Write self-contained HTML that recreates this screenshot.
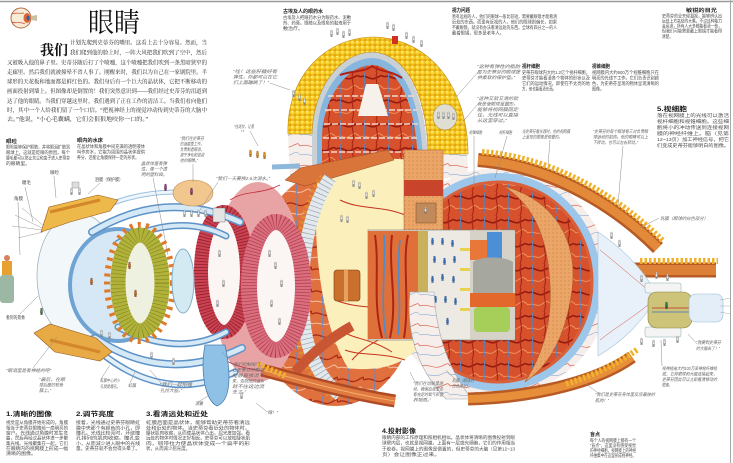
<!DOCTYPE html>
<html><head><meta charset="utf-8"><style>
html,body{margin:0;padding:0;background:#fff;width:733px;height:463px;overflow:hidden}
svg{display:block}
.s{font-family:"Liberation Sans","Noto Sans CJK SC",sans-serif}
.sf{font-family:"Liberation Serif","Noto Serif CJK SC",serif}
.b{font-size:4.5px;fill:#4a4a4a}
.h{font-size:5px;font-weight:bold;fill:#222}
.q{font-size:4.5px;fill:#666;font-style:italic}
.H{font-size:6.5px;font-weight:bold;fill:#1a1a1a}
.l{stroke:#8a8a8a;stroke-width:.5;fill:none}
</style></head><body>
<svg width="733" height="463" viewBox="0 0 733 463" xmlns="http://www.w3.org/2000/svg">
<defs>
 <pattern id="vR" width="24" height="24" patternUnits="userSpaceOnUse">
  <rect width="24" height="24" fill="#d7522c"/>
  <path d="M0,5 C6,2 10,9 16,6 S22,3 24,5" stroke="#961a10" stroke-width="1.6" fill="none"/>
  <path d="M0,17 C5,14 9,20 14,16 S20,13 24,17" stroke="#f08e5c" stroke-width="1" fill="none"/>
  <path d="M4,0 C6,8 2,14 6,24" stroke="#4f86c8" stroke-width="0.9" fill="none"/>
  <path d="M17,0 C14,7 20,15 16,24" stroke="#a82414" stroke-width="1.1" fill="none"/>
 </pattern>
 <pattern id="vO" width="26" height="22" patternUnits="userSpaceOnUse">
  <rect width="26" height="22" fill="#e0703e"/>
  <path d="M0,6 C8,2 12,11 20,6 S24,4 26,6" stroke="#a82a18" stroke-width="1.3" fill="none"/>
  <path d="M0,16 C6,13 12,19 18,15 S23,14 26,16" stroke="#f6c2a0" stroke-width="1" fill="none"/>
  <path d="M10,0 C13,8 8,14 12,22" stroke="#5b8ccc" stroke-width="0.8" fill="none"/>
 </pattern>
 <pattern id="vW" width="30" height="20" patternUnits="userSpaceOnUse">
  <rect width="30" height="20" fill="#f6eeea"/>
  <path d="M0,6 C8,3 14,10 22,6 S28,4 30,6" stroke="#d8503a" stroke-width="0.6" fill="none"/>
  <path d="M0,15 C7,13 15,18 22,14 S28,14 30,15" stroke="#6a9ad0" stroke-width="0.5" fill="none"/>
 </pattern>
 <pattern id="yl" width="5" height="5" patternUnits="userSpaceOnUse">
  <rect width="5" height="5" fill="#e4a80e"/>
  <ellipse cx="2.5" cy="2.5" rx="2.3" ry="2.1" fill="#fbd52e"/>
  <circle cx="2" cy="1.8" r=".8" fill="#fff39a"/>
 </pattern>
 <pattern id="tn" width="4" height="4" patternUnits="userSpaceOnUse">
  <rect width="4" height="4" fill="#eba667"/>
  <circle cx="1" cy="1" r=".5" fill="#b86a34"/>
 </pattern>
 <g id="p"><circle cx="1.5" cy="1" r="1"/><rect x="0.4" y="2" width="2.2" height="3" rx=".5"/><rect x=".6" y="4.8" width=".7" height="2"/><rect x="1.7" y="4.8" width=".7" height="2"/></g>
</defs>

<!-- frame -->
<line x1="0" y1="1.5" x2="733" y2="1.5" stroke="#9a9a9a" stroke-width="1.5"/>
<line x1="730.5" y1="0" x2="730.5" y2="463" stroke="#a8a8a8" stroke-width="1"/>

<!-- eye icon -->
<circle cx="21" cy="18" r="10" fill="#f6ecd8" stroke="#b56a44" stroke-width="1"/>
<path d="M12,14 C16,12 20,14 24,13 M12,22 C16,24 20,21 25,24" stroke="#d04a30" stroke-width=".7" fill="none"/>
<ellipse cx="27" cy="18" rx="3.5" ry="5" fill="#e0662e"/>
<ellipse cx="28" cy="18" rx="1.5" ry="2.6" fill="#3560a8"/>
<path d="M31,16 L37,15 L37,21 L31,20 Z" fill="#c9c0a0"/>

<!-- ===== central back shells ===== -->
<ellipse cx="498" cy="282" rx="112" ry="114" fill="url(#vW)"/>
<ellipse cx="498" cy="282" rx="102" ry="108" fill="url(#vR)"/>
<ellipse cx="498" cy="282" rx="99" ry="105" fill="none" stroke="#9cc6ea" stroke-width="8"/>
<ellipse cx="498" cy="282" rx="94" ry="100" fill="none" stroke="#d8603a" stroke-width="3"/>
<path d="M503,186 C555,200 578,240 572,290 C566,335 550,365 525,382 C545,350 552,320 550,285 C548,240 535,205 503,186 Z" fill="url(#tn)" stroke="#b05a2a" stroke-width=".6"/>

<ellipse cx="335" cy="288" rx="85" ry="118" fill="url(#vO)"/>

<!-- dome -->
<path d="M290,178 L288,134 C286,80 322,38 373,37 C430,38 468,88 468,178 Z" fill="url(#vW)"/>
<path d="M312,178 L312,134 C313,90 338,53 372,52 C408,53 428,100 428,172 Z" fill="#c9d0d6"/>
<path d="M317,178 L317,134 C318,94 341,59 372,58 C404,59 423,103 423,172 Z" fill="#86b6de"/>
<path d="M322,178 L322,136 C323,100 345,66 372,65 C400,66 418,108 418,172 Z" fill="url(#vR)"/>
<g stroke="#f4d8cc" stroke-width="1.4" stroke-dasharray="6 2">
 <line x1="328" y1="96" x2="414" y2="96"/><line x1="325" y1="110" x2="417" y2="110"/>
 <line x1="324" y1="124" x2="418" y2="124"/><line x1="323" y1="138" x2="418" y2="138"/>
 <line x1="323" y1="152" x2="418" y2="152"/>
</g>
<path d="M366,84 L378,84 L388,116 L358,116 Z" fill="#f6f1ea"/>
<path d="M340,75 C355,70 365,72 372,66 C380,72 390,70 402,78" stroke="#b02014" stroke-width="2" fill="none"/>
<path d="M288,134 C286,80 322,38 373,37 C430,38 468,88 468,154 L428,154 C428,100 408,53 372,52 C338,53 313,90 312,134 Z" fill="url(#yl)" stroke="#c08a10" stroke-width=".6"/>
<ellipse cx="445" cy="117" rx="12" ry="13" fill="#e0ddd2" stroke="#b09030" stroke-width=".6"/>
<g fill="#eee" stroke="#555" stroke-width=".3">
 <use href="#p" x="437" y="112"/><use href="#p" x="442" y="112"/><use href="#p" x="447" y="112"/><use href="#p" x="452" y="113"/>
 <use href="#p" x="330" y="30"/><use href="#p" x="336" y="28"/><use href="#p" x="342" y="31"/><use href="#p" x="348" y="29"/>
 <use href="#p" x="386" y="22"/><use href="#p" x="392" y="24"/><use href="#p" x="405" y="32"/><use href="#p" x="412" y="36"/><use href="#p" x="420" y="40"/>
 <use href="#p" x="292" y="90"/><use href="#p" x="298" y="94"/><use href="#p" x="303" y="98"/>
 <use href="#p" x="420" y="150"/><use href="#p" x="428" y="152"/><use href="#p" x="436" y="151"/>
</g>
<rect x="392" y="36" width="6" height="8" fill="#d03020"/>

<!-- vitreous -->
<path d="M318,175 C345,160 395,155 420,162 L420,345 C405,366 375,372 348,368 C318,320 312,230 318,175 Z" fill="#fbefbb"/>
<g stroke="#c8321e" stroke-width="1" fill="none">
 <path d="M340,330 C355,340 370,338 392,352"/><path d="M345,350 C360,356 380,352 405,360"/><path d="M335,300 C360,310 380,305 410,312"/>
 <path d="M340,200 C360,210 380,205 405,215"/><path d="M352,360 C365,345 380,340 395,330"/>
</g>
<g fill="#eee" stroke="#555" stroke-width=".3">
 <use href="#p" x="352" y="180"/><use href="#p" x="358" y="182"/><use href="#p" x="365" y="192"/><use href="#p" x="372" y="190"/>
 <use href="#p" x="340" y="215"/><use href="#p" x="346" y="216"/>
</g>

<!-- diagonal muscle under dome -->
<path d="M272,167 L300,166" stroke="#8db8dc" stroke-width="5"/>
<path d="M285,180 L300,168 L388,150 L394,160 L305,186 Z" fill="#d9753a" stroke="#9a4a20" stroke-width=".5"/>
<g fill="#e8a22a" stroke="#704010" stroke-width=".3">
 <use href="#p" x="249" y="150"/><use href="#p" x="256" y="151"/><use href="#p" x="263" y="152"/>
</g>

<!-- column -->
<rect x="404" y="150" width="39" height="82" fill="url(#tn)" stroke="#a86030" stroke-width=".5"/>
<rect x="404" y="180" width="39" height="16" fill="#c8442a"/>
<rect x="416" y="203" width="20" height="20" fill="#c28a5a" stroke="#7a4a20" stroke-width=".5"/>
<use href="#p" x="424" y="207" fill="#eee" stroke="#444" stroke-width=".3"/>

<!-- grey band with figures -->
<path d="M322,176 C296,215 289,280 296,330 C301,362 313,383 333,398" stroke="#e08a30" stroke-width="5" stroke-dasharray="2.5 3" fill="none"/>
<path d="M330,178 C305,215 298,280 305,330 C310,360 322,380 340,395" stroke="#e3e8ec" stroke-width="13" fill="none"/>
<path d="M330,178 C305,215 298,280 305,330 C310,360 322,380 340,395" stroke="#8a9aa8" stroke-width="13" stroke-dasharray=".6 4" fill="none"/>
<rect x="334" y="270" width="26" height="31" rx="3" fill="#c9702c" stroke="#7a3a10" stroke-width=".6"/>
<rect x="344" y="270" width="4" height="31" fill="#e6a060"/>

<!-- pink rings -->
<ellipse cx="258" cy="282" rx="46" ry="100" fill="#e8a4a4"/>
<g stroke="#c03040" stroke-width=".8" fill="none">
 <path d="M230,200 C245,190 260,195 280,185"/><path d="M225,360 C245,372 265,368 285,378"/>
</g>
<ellipse cx="224" cy="272" rx="23" ry="60" fill="#fbf5f3" stroke="#cc4250" stroke-width="14"/>
<ellipse cx="224" cy="272" rx="23" ry="60" fill="none" stroke="#8e2232" stroke-width="14" stroke-dasharray=".8 2.2"/>
<ellipse cx="276" cy="286" rx="27" ry="64" fill="#fbf5f3" stroke="#dc6e7e" stroke-width="16"/>
<ellipse cx="276" cy="286" rx="27" ry="64" fill="none" stroke="#a84050" stroke-width="16" stroke-dasharray=".7 2.4"/>
<g fill="#e8e8e8" stroke="#555" stroke-width=".3">
 <use href="#p" x="218" y="250"/><use href="#p" x="222" y="280"/><use href="#p" x="216" y="300"/>
 <use href="#p" x="268" y="250"/><use href="#p" x="274" y="262"/><use href="#p" x="280" y="280"/><use href="#p" x="270" y="300"/><use href="#p" x="278" y="318"/>
</g>

<!-- right eyeball interior: room -->
<rect x="368" y="230" width="147" height="110" fill="#eceae2" stroke="#777" stroke-width=".6"/>
<rect x="368" y="231" width="50" height="108" fill="#e0703a"/>
<g stroke="#b02414" stroke-width="2" fill="none">
 <path d="M375,235 C380,270 372,300 382,338"/><path d="M392,235 C388,270 398,300 390,338"/><path d="M408,235 C402,260 410,300 404,338"/>
</g>
<g stroke="#4e8ad0" stroke-width="1.6" fill="none">
 <path d="M384,235 C386,270 380,300 386,338"/><path d="M400,240 C396,270 402,300 398,335"/>
</g>
<rect x="418" y="231" width="10" height="108" fill="#c9b05a"/>
<g fill="#3a70b8" stroke="#1a3a70" stroke-width=".2">
 <use href="#p" x="431" y="238"/><use href="#p" x="441" y="238"/><use href="#p" x="451" y="240"/>
 <use href="#p" x="433" y="256"/><use href="#p" x="443" y="258"/><use href="#p" x="453" y="256"/>
 <use href="#p" x="431" y="276"/><use href="#p" x="441" y="274"/><use href="#p" x="452" y="276"/>
 <use href="#p" x="434" y="296"/><use href="#p" x="444" y="296"/><use href="#p" x="454" y="298"/>
 <use href="#p" x="432" y="316"/><use href="#p" x="446" y="318"/>
</g>
<g fill="#e8d050"><rect x="460" y="248" width="10" height="3"/><rect x="460" y="268" width="10" height="3"/><rect x="460" y="288" width="10" height="3"/><rect x="460" y="308" width="10" height="3"/></g>
<rect x="470" y="231" width="45" height="108" fill="#d6d2c8"/>
<rect x="470" y="240" width="18" height="20" fill="#e8783a"/>
<rect x="487" y="232" width="15" height="28" fill="#4b8fd6"/>
<path d="M473,262 C480,256 505,256 513,262 L513,294 L473,294 Z" fill="#a6a79f"/>
<rect x="470" y="293" width="45" height="14" fill="#e2682c"/>
<rect x="474" y="307" width="36" height="25" rx="4" fill="#a5cf58"/>

<!-- sclera white wall -->
<path d="M410,292 C406,330 416,368 446,399 L472,399 C448,370 436,332 434,292 Z" fill="url(#vW)" stroke="#9aa8b4" stroke-width=".6"/>

<!-- muscles -->
<path d="M478,160 C545,165 610,200 658,248" stroke="#b85a24" stroke-width="14" fill="none"/>
<path d="M478,160 C545,165 610,200 658,248" stroke="#e38a3a" stroke-width="9" fill="none"/>
<path d="M482,152 C549,157 614,192 663,241" stroke="#f0b22c" stroke-width="6" stroke-dasharray="2.5 2" fill="none"/>
<path d="M598,270 L716,270" stroke="#b85a24" stroke-width="15"/>
<path d="M598,270 L716,270" stroke="#dc8038" stroke-width="10"/>
<path d="M640,261 L718,261" stroke="#f0b02c" stroke-width="6" stroke-dasharray="2.5 2"/>
<path d="M468,399 C540,397 600,380 632,357" stroke="#b85a24" stroke-width="13" fill="none"/>
<path d="M468,399 C540,397 600,380 632,357" stroke="#e68e3a" stroke-width="8" fill="none"/>
<path d="M566,384 C600,373 620,362 638,349" stroke="#f0b22c" stroke-width="6" stroke-dasharray="2.5 2" fill="none"/>
<path d="M295,372 C310,355 330,338 352,326" stroke="#c85632" stroke-width="10" fill="none"/>
<path d="M262,370 C300,380 350,394 395,401" stroke="#b04a24" stroke-width="13" fill="none"/>
<path d="M262,370 C300,380 350,394 395,401" stroke="#e07a40" stroke-width="8" fill="none"/>
<path d="M262,370 C300,380 350,394 395,401" stroke="#f2b070" stroke-width="1" fill="none"/>
<path d="M258,364 L285,376" stroke="#f0b22c" stroke-width="6" stroke-dasharray="2.5 2"/>

<!-- optic nerve -->
<path d="M598,232 C625,250 640,268 650,283 L650,308 C640,322 625,340 598,356 Z" fill="#e8f1f9" stroke="#a5c4de" stroke-width=".6"/>
<g stroke="#d8503a" stroke-width=".5" fill="none"><path d="M600,250 C615,262 630,275 648,290"/><path d="M600,340 C615,328 632,318 648,305"/></g>
<rect x="645" y="283" width="36" height="10" rx="2" fill="#f4f4f4" stroke="#8aa" stroke-width=".5"/>
<rect x="645" y="327" width="36" height="10" rx="2" fill="#f4f4f4" stroke="#8aa" stroke-width=".5"/>
<rect x="648" y="292" width="44" height="36" rx="9" fill="#cdc47a" stroke="#8a8440" stroke-width=".6"/>
<path d="M652,308 L690,308" stroke="#c03020" stroke-width=".8"/><path d="M652,312 L690,312" stroke="#3a70c0" stroke-width=".8"/>
<rect x="689" y="294" width="34" height="28" rx="7" fill="#e3eef8" stroke="#95b8d6" stroke-width=".6"/>
<g stroke="#999" stroke-width=".4"><line x1="720" y1="300" x2="731" y2="298"/><line x1="720" y1="306" x2="731" y2="306"/><line x1="720" y1="312" x2="731" y2="314"/></g>
<g fill="#eee" stroke="#555" stroke-width=".3">
 <use href="#p" x="640" y="275"/><use href="#p" x="655" y="272"/><use href="#p" x="666" y="274"/>
 <use href="#p" x="640" y="338"/><use href="#p" x="652" y="340"/><use href="#p" x="663" y="339"/><use href="#p" x="676" y="336"/>
 <use href="#p" x="610" y="232"/><use href="#p" x="618" y="240"/>
</g>
<use href="#p" x="665" y="302" fill="#3a8a50" stroke="#222" stroke-width=".3"/>

<!-- ===== left front of eye ===== -->
<ellipse cx="78" cy="276" rx="41" ry="63" fill="#f2f7f9" stroke="#9fb2c0" stroke-width=".8"/>
<g stroke="#9a9a9a" stroke-width=".5">
 <line x1="42" y1="228" x2="15" y2="215"/><line x1="42" y1="230" x2="12" y2="226"/><line x1="43" y1="232" x2="18" y2="238"/><line x1="44" y1="226" x2="22" y2="208"/>
</g>
<ellipse cx="118" cy="285" rx="48" ry="56" fill="#d6e8f5" stroke="#6ea3d3" stroke-width="4"/>
<g fill="none" stroke-linecap="round">
 <path d="M92,232 Q165,188 240,222" stroke="#5e93c8" stroke-width="8"/><path d="M92,232 Q165,188 240,222" stroke="#d4e8f6" stroke-width="5"/>
 <path d="M118,243 Q178,212 226,236" stroke="#5e93c8" stroke-width="7"/><path d="M118,243 Q178,212 226,236" stroke="#d4e8f6" stroke-width="4"/>
 <path d="M95,338 Q165,385 242,348" stroke="#5e93c8" stroke-width="8"/><path d="M95,338 Q165,385 242,348" stroke="#d4e8f6" stroke-width="5"/>
 <path d="M118,327 Q178,358 226,332" stroke="#5e93c8" stroke-width="7"/><path d="M118,327 Q178,358 226,332" stroke="#d4e8f6" stroke-width="4"/>
 <path d="M100,352 Q165,405 235,372" stroke="#5e93c8" stroke-width="7"/><path d="M100,352 Q165,405 235,372" stroke="#e4f0f9" stroke-width="4"/>
 <path d="M108,205 Q140,192 176,192" stroke="#9cc0de" stroke-width="5"/><path d="M108,205 Q140,192 176,192" stroke="#eef6fc" stroke-width="3"/>
</g>
<ellipse cx="140" cy="283" rx="33" ry="58" fill="none" stroke="#e07a28" stroke-width="6" stroke-dasharray="3 5"/>
<ellipse cx="140" cy="283" rx="22" ry="48" fill="#eef0e0" stroke="#b2b23a" stroke-width="15"/>
<ellipse cx="140" cy="283" rx="22" ry="48" fill="none" stroke="#7e8a24" stroke-width="15" stroke-dasharray=".6 3"/>
<ellipse cx="183" cy="281" rx="11" ry="32" fill="#d3eaf2" stroke="#7fb0c8" stroke-width="1"/>
<g fill="#d8702a" stroke="#603010" stroke-width=".3">
 <use href="#p" x="128" y="262"/><use href="#p" x="134" y="290"/><use href="#p" x="90" y="278"/>
</g>
<!-- eyelids -->
<path d="M41,232 L49,207 L98,195 L118,200 L110,211 L70,222 Z" fill="#edb94a" stroke="#9a5a20" stroke-width=".6"/>
<path d="M50,212 L100,200" stroke="#d4862a" stroke-width="3"/>
<path d="M34,333 L50,324 L96,338 L112,352 L100,361 L55,352 Z" fill="#e8aa44" stroke="#9a5a20" stroke-width=".6"/>
<path d="M50,340 L100,352" stroke="#d4862a" stroke-width="3"/>
<!-- tear gland & teardrop -->
<ellipse cx="193" cy="193" rx="20" ry="13" fill="#f1c78e" stroke="#c08a58" stroke-width=".6"/>
<g fill="#a54590" stroke="#401030" stroke-width=".3"><use href="#p" x="164" y="184"/><use href="#p" x="190" y="188"/></g>
<path d="M205,345 C200,372 205,400 217,406 C230,401 232,378 225,345 Z" fill="#8fc1e7" stroke="#4a80b0" stroke-width=".8"/>
<g fill="#eee" stroke="#555" stroke-width=".3">
 <use href="#p" x="183" y="210"/><use href="#p" x="190" y="210"/><use href="#p" x="197" y="210"/><use href="#p" x="204" y="210"/>
 <use href="#p" x="70" y="188"/><use href="#p" x="78" y="188"/><use href="#p" x="100" y="330"/><use href="#p" x="108" y="332"/>
 <use href="#p" x="150" y="352"/><use href="#p" x="172" y="358"/><use href="#p" x="240" y="392"/>
</g>
<rect x="72" y="182" width="7" height="6" fill="#ddd" stroke="#666" stroke-width=".3"/>
<rect x="213" y="208" width="12" height="14" fill="#e4e4e4" stroke="#666" stroke-width=".4"/>
<!-- little person far left -->
<circle cx="7" cy="258" r="3" fill="#d88060"/>
<rect x="2" y="261" width="10" height="14" fill="#e8a030"/>
<rect x="0" y="275" width="14" height="28" rx="3" fill="#9cb8a4"/>
<use href="#p" x="40" y="308" fill="#5a9a50" stroke="#222" stroke-width=".3"/>

<!-- ===== connector lines ===== -->
<g class="l">
 <path d="M25,187 L33,222"/><path d="M54,176 L56,198"/><path d="M18,202 L20,255"/><path d="M100,183 L88,194"/>
 <path d="M153,178 L168,255"/><path d="M193,164 L193,182"/><path d="M218,182 L200,210"/>
 <path d="M20,314 L38,296"/><path d="M33,368 L57,337"/>
 <path d="M480,70 L456,97"/><path d="M478,104 L460,125"/><path d="M270,83 L290,90"/><path d="M250,131 L258,146"/>
 <path d="M507,136 L495,178"/><path d="M474,136 L474,185"/><path d="M550,140 L548,165"/><path d="M623,146 L618,205"/>
 <path d="M659,218 L640,228"/><path d="M662,366 L661,340"/><path d="M697,344 L688,334"/><path d="M598,393 L586,384"/>
 <path d="M415,382 L410,372"/><path d="M455,379 L446,370"/><path d="M233,364 L222,352"/><path d="M161,383 L150,370"/>
 <path d="M101,379 L110,365"/><path d="M130,383 L135,372"/><path d="M198,402 L208,396"/><path d="M266,411 L256,403"/>
</g>

<!-- ===== TEXT ===== -->
<g class="sf">
 <text x="88" y="32" font-size="27" fill="#111" textLength="52" lengthAdjust="spacingAndGlyphs">眼睛</text>
 <text x="40" y="55" font-size="14" font-weight="bold" fill="#111" textLength="28" lengthAdjust="spacingAndGlyphs">我们</text>
 <g font-size="5.8" fill="#222">
  <text x="70" y="44.5" textLength="137" lengthAdjust="spacingAndGlyphs">计划先爬到史蒂芬的嘴里。这看上去十分容易。然而，当</text>
  <text x="70" y="54.5" textLength="137" lengthAdjust="spacingAndGlyphs">我们爬到他的脸上时，一阵大风把我们吹到了空中，然后</text>
  <text x="7" y="64.5" textLength="200" lengthAdjust="spacingAndGlyphs">又被吸入他的鼻子里。史蒂芬随后打了个喷嚏，这个喷嚏把我们吹到一条黑暗狭窄的</text>
  <text x="7" y="74" textLength="200" lengthAdjust="spacingAndGlyphs">走廊里。然后我们就被撞晕不省人事了。刚醒来时，我们以为自己在一家剧院里。半</text>
  <text x="7" y="83.5" textLength="200" lengthAdjust="spacingAndGlyphs">球形的天花板和地面都是鲜红色的。我们身后有一个巨大的晶状体，它把不断移动的</text>
  <text x="7" y="93" textLength="200" lengthAdjust="spacingAndGlyphs">画面投射到墙上。但图像却是倒置的！我们突然意识到——我们经过史蒂芬的泪道到</text>
  <text x="7" y="103" textLength="200" lengthAdjust="spacingAndGlyphs">达了他的眼睛。当我们穿越这里时，我们遇到了正在工作的清洁工。当我们看向他们</text>
  <text x="7" y="112" textLength="200" lengthAdjust="spacingAndGlyphs">时，其中一个人给我们留了一个口信。“把视神经上的视觉冲动传到史蒂芬的大脑中</text>
  <text x="7" y="121" textLength="141" lengthAdjust="spacingAndGlyphs">去。”他说，“小心毛囊螨，它们会狠狠地咬你一口的。”</text>
 </g>
</g>

<g class="s">
 <text class="h" x="283" y="13" textLength="40" lengthAdjust="spacingAndGlyphs">古埃及人的眼药水</text>
 <text class="b" x="283" y="19" textLength="68" lengthAdjust="spacingAndGlyphs">古埃及人把眼药水分为眼药水、泥敷</text>
 <text class="b" x="283" y="24.5" textLength="68" lengthAdjust="spacingAndGlyphs">剂、药膏。眼睛以及眼角的黏液用于</text>
 <text class="b" x="283" y="30" textLength="20" lengthAdjust="spacingAndGlyphs">敷治疗。</text>

 <text class="h" x="452" y="12" textLength="18" lengthAdjust="spacingAndGlyphs">视力问题</text>
 <text class="b" x="452" y="18" textLength="105" lengthAdjust="spacingAndGlyphs">患有远视的人，他们的眼球一般比较短，需要戴眼镜才能看清</text>
 <text class="b" x="452" y="23.5" textLength="105" lengthAdjust="spacingAndGlyphs">近处的东西。而患有近视的人，他们的眼球则偏长，如果</text>
 <text class="b" x="452" y="29" textLength="105" lengthAdjust="spacingAndGlyphs">不戴眼镜，就没有办法看清远处的东西。全球有四分之一的人</text>
 <text class="b" x="452" y="34.5" textLength="52" lengthAdjust="spacingAndGlyphs">戴着眼镜，很多是老年人。</text>

 <text class="h" x="686" y="12" textLength="31" lengthAdjust="spacingAndGlyphs">敏锐的目光</text>
 <text class="b" x="662" y="17.5" textLength="60" lengthAdjust="spacingAndGlyphs">史蒂芬的全天候凝视，能够辨认出</text>
 <text class="b" x="662" y="22.5" textLength="60" lengthAdjust="spacingAndGlyphs">远处上方高处的大鹰。不过这种能力</text>
 <text class="b" x="662" y="27.5" textLength="60" lengthAdjust="spacingAndGlyphs">会衰退，所有人大多都能看清一些，</text>
 <text class="b" x="662" y="32.5" textLength="60" lengthAdjust="spacingAndGlyphs">但我们可能需要戴上眼镜才能看得</text>
 <text class="b" x="662" y="38" textLength="11" lengthAdjust="spacingAndGlyphs">清楚。</text>

 <text class="q" x="477" y="68" textLength="43" lengthAdjust="spacingAndGlyphs">“这种有弹性的脂肪</text>
 <text class="q" x="477" y="73.5" textLength="43" lengthAdjust="spacingAndGlyphs">层为史蒂芬的眼球提</text>
 <text class="q" x="477" y="79" textLength="38" lengthAdjust="spacingAndGlyphs">供柔软的保护垫。”</text>
 <text class="q" x="477" y="100" textLength="41" lengthAdjust="spacingAndGlyphs">“这种又软又滑的软</text>
 <text class="q" x="477" y="105.5" textLength="41" lengthAdjust="spacingAndGlyphs">骨是使眼球呈圆形，</text>
 <text class="q" x="477" y="111" textLength="41" lengthAdjust="spacingAndGlyphs">能够将视网膜固定</text>
 <text class="q" x="477" y="116.5" textLength="41" lengthAdjust="spacingAndGlyphs">住，光线可以直接</text>
 <text class="q" x="477" y="122" textLength="30" lengthAdjust="spacingAndGlyphs">从这里穿过。”</text>

 <text class="h" x="522" y="68" textLength="18" lengthAdjust="spacingAndGlyphs">视杆细胞</text>
 <text class="b" x="522" y="74" textLength="68" lengthAdjust="spacingAndGlyphs">史蒂芬眼球内大约1.2亿个视杆细胞，</text>
 <text class="b" x="522" y="79.5" textLength="68" lengthAdjust="spacingAndGlyphs">史蒂芬才能看清各个物体的形状以及</text>
 <text class="b" x="522" y="85" textLength="68" lengthAdjust="spacingAndGlyphs">它们的运动情况，即使在不太亮的地</text>
 <text class="b" x="522" y="90.5" textLength="34" lengthAdjust="spacingAndGlyphs">方，他也能看清东西。</text>

 <text class="h" x="592" y="68" textLength="18" lengthAdjust="spacingAndGlyphs">视锥细胞</text>
 <text class="b" x="592" y="74" textLength="67" lengthAdjust="spacingAndGlyphs">视网膜内大约600万个视锥细胞只在</text>
 <text class="b" x="592" y="79.5" textLength="67" lengthAdjust="spacingAndGlyphs">明亮的光线下工作。它们负责识别颜</text>
 <text class="b" x="592" y="85" textLength="67" lengthAdjust="spacingAndGlyphs">色，为史蒂芬呈现的物体呈现清晰的</text>
 <text class="b" x="592" y="90.5" textLength="12" lengthAdjust="spacingAndGlyphs">图像。</text>

 <text class="H" x="657" y="111" textLength="30" lengthAdjust="spacingAndGlyphs">5.视细胞</text>
 <text class="b" x="657" y="117" textLength="72" lengthAdjust="spacingAndGlyphs">落在视网膜上的光线可以激活</text>
 <text class="b" x="657" y="123" textLength="72" lengthAdjust="spacingAndGlyphs">视杆细胞和视锥细胞。这些细</text>
 <text class="b" x="657" y="129" textLength="72" lengthAdjust="spacingAndGlyphs">胞将小的冲动传送到连接视网</text>
 <text class="b" x="657" y="135" textLength="72" lengthAdjust="spacingAndGlyphs">膜的神经纤维上。脑（见第</text>
 <text class="b" x="657" y="141" textLength="72" lengthAdjust="spacingAndGlyphs">12~13页）加工神经信号，把它</text>
 <text class="b" x="657" y="147" textLength="72" lengthAdjust="spacingAndGlyphs">们变成史蒂芬能够明白的图像。</text>

 <text class="h" x="6" y="143" textLength="11" lengthAdjust="spacingAndGlyphs">眼睑</text>
 <text class="b" x="6" y="148.5" textLength="64" lengthAdjust="spacingAndGlyphs">眼睑能够保护眼睛，并将眼泪扩散到</text>
 <text class="b" x="6" y="154" textLength="64" lengthAdjust="spacingAndGlyphs">眼球上，这就是眨眼的原因。每个</text>
 <text class="b" x="6" y="159.5" textLength="64" lengthAdjust="spacingAndGlyphs">睫毛都可以防止灰尘和虫子进入史蒂芬</text>
 <text class="b" x="6" y="165" textLength="24" lengthAdjust="spacingAndGlyphs">的眼睛里。</text>

 <text class="h" x="77" y="142" textLength="26" lengthAdjust="spacingAndGlyphs">眼内的水床</text>
 <text class="b" x="77" y="148" textLength="68" lengthAdjust="spacingAndGlyphs">在晶状体和角膜中间充满的透明液体</text>
 <text class="b" x="77" y="153.5" textLength="68" lengthAdjust="spacingAndGlyphs">叫作房水，它能为周围的晶状体提供</text>
 <text class="b" x="77" y="159" textLength="62" lengthAdjust="spacingAndGlyphs">养分，还能让角膜保持一定的形状。</text>

 <text class="b" x="22" y="184" textLength="9" lengthAdjust="spacingAndGlyphs">睫毛</text>
 <text class="b" x="50" y="174" textLength="9" lengthAdjust="spacingAndGlyphs">眼睑</text>
 <text class="b" x="14" y="200" textLength="9" lengthAdjust="spacingAndGlyphs">角膜</text>
 <text class="b" x="95" y="181" textLength="28" lengthAdjust="spacingAndGlyphs">泪膜（保护膜）</text>
 <text class="b" x="6" y="319" textLength="19" lengthAdjust="spacingAndGlyphs">看到的景象</text>
 <text class="q" x="6" y="372" textLength="45" lengthAdjust="spacingAndGlyphs">“眼泪里是有神经的吧”</text>
 <text class="q" x="180" y="140" textLength="24" lengthAdjust="spacingAndGlyphs">“我们在史蒂芬</text>
 <text class="q" x="180" y="145.5" textLength="24" lengthAdjust="spacingAndGlyphs">的泪腺里工作，</text>
 <text class="q" x="180" y="151" textLength="24" lengthAdjust="spacingAndGlyphs">负责制造眼泪，</text>
 <text class="q" x="180" y="156.5" textLength="24" lengthAdjust="spacingAndGlyphs">用于净化和滋润</text>
 <text class="q" x="180" y="162" textLength="18" lengthAdjust="spacingAndGlyphs">他的眼睛。”</text>
 <text class="q" x="141" y="165" textLength="26" lengthAdjust="spacingAndGlyphs">晶状体富有弹</text>
 <text class="q" x="141" y="170.5" textLength="26" lengthAdjust="spacingAndGlyphs">性，像一个透</text>
 <text class="q" x="141" y="176" textLength="26" lengthAdjust="spacingAndGlyphs">明的塑料袋。</text>
 <text class="q" x="216" y="180" textLength="54" lengthAdjust="spacingAndGlyphs">“我们一天要换2.6次泪水。”</text>
 <text class="q" x="233" y="73" textLength="44" lengthAdjust="spacingAndGlyphs">“哇！这些肝糖好有</text>
 <text class="q" x="233" y="78.5" textLength="44" lengthAdjust="spacingAndGlyphs">弹性，你都可以在它</text>
 <text class="q" x="233" y="84" textLength="36" lengthAdjust="spacingAndGlyphs">们上面蹦跳了！”</text>
 <text class="q" x="234" y="128" textLength="20" lengthAdjust="spacingAndGlyphs">“往这拉，让着</text>
 <text class="q" x="240" y="133.5" textLength="4" lengthAdjust="spacingAndGlyphs">”</text>

 <text class="q" x="39" y="381" textLength="26" lengthAdjust="spacingAndGlyphs">“最后，在眼</text>
 <text class="q" x="39" y="386.5" textLength="24" lengthAdjust="spacingAndGlyphs">球后面的软骨</text>
 <text class="q" x="39" y="392" textLength="12" lengthAdjust="spacingAndGlyphs">膜上。”</text>
 <text class="q" x="100" y="382" textLength="20" lengthAdjust="spacingAndGlyphs">虹膜中心的小</text>
 <text class="q" x="100" y="388" textLength="20" lengthAdjust="spacingAndGlyphs">孔就是瞳孔。</text>
 <text class="q" x="128" y="387" textLength="8" lengthAdjust="spacingAndGlyphs">虹膜</text>
 <text class="q" x="160" y="386" textLength="32" lengthAdjust="spacingAndGlyphs">“我们一起把瞳</text>
 <text class="q" x="160" y="392" textLength="22" lengthAdjust="spacingAndGlyphs">孔拉大些。”</text>
 <text class="q" x="195" y="405" textLength="8" lengthAdjust="spacingAndGlyphs">泪囊</text>
 <text class="q" x="266" y="414" textLength="12" lengthAdjust="spacingAndGlyphs">“嗨！”</text>
 <text class="q" x="232" y="366" textLength="32" lengthAdjust="spacingAndGlyphs">“我们控制闸门，</text>
 <text class="q" x="232" y="371.5" textLength="32" lengthAdjust="spacingAndGlyphs">让史蒂芬的眼泪</text>
 <text class="q" x="232" y="377" textLength="32" lengthAdjust="spacingAndGlyphs">能够直接流下</text>
 <text class="q" x="232" y="382.5" textLength="32" lengthAdjust="spacingAndGlyphs">来，否则他的泪水</text>
 <text class="q" x="232" y="388" textLength="32" lengthAdjust="spacingAndGlyphs">就不往这边流</text>
 <text class="q" x="232" y="393.5" textLength="14" lengthAdjust="spacingAndGlyphs">去了。”</text>
 <text class="q" x="413" y="385" textLength="30" lengthAdjust="spacingAndGlyphs">“我们在动脉里游</text>
 <text class="q" x="413" y="390.5" textLength="30" lengthAdjust="spacingAndGlyphs">动，确保血液里含</text>
 <text class="q" x="413" y="396" textLength="30" lengthAdjust="spacingAndGlyphs">有充足的氧气和营</text>
 <text class="q" x="413" y="401.5" textLength="18" lengthAdjust="spacingAndGlyphs">养物质。”</text>
 <text class="q" x="452" y="382" textLength="22" lengthAdjust="spacingAndGlyphs">巩膜（眼球的</text>
 <text class="q" x="452" y="387.5" textLength="18" lengthAdjust="spacingAndGlyphs">白色部分）</text>
 <text class="q" x="595" y="396" textLength="60" lengthAdjust="spacingAndGlyphs">“我们是史蒂芬身体里反应最快的</text>
 <text class="q" x="595" y="402" textLength="14" lengthAdjust="spacingAndGlyphs">肌肉！”</text>

 <text class="q" x="593" y="133" textLength="55" lengthAdjust="spacingAndGlyphs">“史蒂芬的每个眼球有三对负责眼</text>
 <text class="q" x="593" y="138.5" textLength="55" lengthAdjust="spacingAndGlyphs">球运动的肌肉。他的眼睛可以上</text>
 <text class="q" x="593" y="144" textLength="45" lengthAdjust="spacingAndGlyphs">下转动，也可以左右转动。”</text>
 <text class="q" x="522" y="133" textLength="48" lengthAdjust="spacingAndGlyphs">当史蒂芬看东西时，他的视网膜</text>
 <text class="q" x="522" y="138.5" textLength="40" lengthAdjust="spacingAndGlyphs">上呈现的图像是倒置的。</text>
 <text class="q" x="469" y="134" textLength="13" lengthAdjust="spacingAndGlyphs">视锥细胞</text>
 <text class="q" x="499" y="134" textLength="13" lengthAdjust="spacingAndGlyphs">视杆细胞</text>
 <text class="q" x="660" y="220" textLength="48" lengthAdjust="spacingAndGlyphs">巩膜（眼球的白色部分）</text>
 <text class="q" x="696" y="344" textLength="25" lengthAdjust="spacingAndGlyphs">“我要到史蒂芬</text>
 <text class="q" x="696" y="350" textLength="24" lengthAdjust="spacingAndGlyphs">的大脑去了！”</text>
 <text class="q" x="662" y="370" textLength="55" lengthAdjust="spacingAndGlyphs">视神经由大约100万束神经纤维组</text>
 <text class="q" x="662" y="375.5" textLength="55" lengthAdjust="spacingAndGlyphs">成，它将眼球和大脑连接起来，</text>
 <text class="q" x="662" y="381" textLength="55" lengthAdjust="spacingAndGlyphs">史蒂芬因此可以立即看清移动的</text>
 <text class="q" x="662" y="386.5" textLength="10" lengthAdjust="spacingAndGlyphs">图像。</text>

 <text class="H" x="6" y="416" textLength="46" lengthAdjust="spacingAndGlyphs">1.清晰的图像</text>
 <text class="b" x="6" y="424" textLength="62" lengthAdjust="spacingAndGlyphs">视觉是从角膜开始形成的。角膜</text>
 <text class="b" x="6" y="429.3" textLength="62" lengthAdjust="spacingAndGlyphs">相当于史蒂芬眼睛前一扇明亮的</text>
 <text class="b" x="6" y="434.5" textLength="62" lengthAdjust="spacingAndGlyphs">窗户。光线通过角膜时发生弯</text>
 <text class="b" x="6" y="439.7" textLength="62" lengthAdjust="spacingAndGlyphs">曲，然后再经过晶状体进一步聚</text>
 <text class="b" x="6" y="444.8" textLength="62" lengthAdjust="spacingAndGlyphs">集光线。光线聚集在一起，它们</text>
 <text class="b" x="6" y="450" textLength="62" lengthAdjust="spacingAndGlyphs">在眼睛内的视网膜上形成一幅</text>
 <text class="b" x="6" y="455.2" textLength="30" lengthAdjust="spacingAndGlyphs">清晰的图像。</text>

 <text class="H" x="76" y="416" textLength="38" lengthAdjust="spacingAndGlyphs">2.调节亮度</text>
 <text class="b" x="76" y="424" textLength="64" lengthAdjust="spacingAndGlyphs">接着，光线通过史蒂芬眼睛虹</text>
 <text class="b" x="76" y="429.3" textLength="64" lengthAdjust="spacingAndGlyphs">膜中央那个有颜色的小孔，即</text>
 <text class="b" x="76" y="434.5" textLength="64" lengthAdjust="spacingAndGlyphs">瞳孔。光线比较亮时，环绕瞳</text>
 <text class="b" x="76" y="439.7" textLength="64" lengthAdjust="spacingAndGlyphs">孔排列的肌肉收缩，瞳孔变</text>
 <text class="b" x="76" y="444.8" textLength="64" lengthAdjust="spacingAndGlyphs">小，从而减少进入眼中的光线</text>
 <text class="b" x="76" y="450" textLength="64" lengthAdjust="spacingAndGlyphs">量。史蒂芬就不会觉得头晕了。</text>

 <text class="H" x="146" y="416" textLength="62" lengthAdjust="spacingAndGlyphs">3.看清远处和近处</text>
 <text class="b" x="146" y="424" textLength="104" lengthAdjust="spacingAndGlyphs">虹膜后面是晶状体，能够帮助史蒂芬看清远</text>
 <text class="b" x="146" y="429.3" textLength="104" lengthAdjust="spacingAndGlyphs">处和近处的物体。当史蒂芬看近处的物体时，</text>
 <text class="b" x="146" y="434.5" textLength="104" lengthAdjust="spacingAndGlyphs">睫状肌肉收缩，从而使晶状体凸出，屈光度加强。看</text>
 <text class="b" x="146" y="439.7" textLength="104" lengthAdjust="spacingAndGlyphs">远处的物体时情况正好相反。史蒂芬可以放松睫状肌</text>
 <text class="b" x="146" y="444.8" textLength="104" lengthAdjust="spacingAndGlyphs">肉，韧带拉力使晶状体变成一个扁平的形</text>
 <text class="b" x="146" y="450" textLength="44" lengthAdjust="spacingAndGlyphs">状，从而减少屈光度。</text>

 <text class="H" x="382" y="433" textLength="34" lengthAdjust="spacingAndGlyphs">4.投射影像</text>
 <text class="b" x="382" y="439" textLength="133" lengthAdjust="spacingAndGlyphs">眼睛内部的工作原理和照相机相似。晶状体将清晰的图像投射到眼</text>
 <text class="b" x="382" y="444.7" textLength="133" lengthAdjust="spacingAndGlyphs">球壁内层，也就是视网膜。上面有一层感光细胞，它们的作用相当</text>
 <text class="b" x="382" y="450.3" textLength="133" lengthAdjust="spacingAndGlyphs">于胶卷。视网膜上的图像是倒置的，但史蒂芬的大脑（见第12~13</text>
 <text class="b" x="382" y="456" textLength="58" lengthAdjust="spacingAndGlyphs">页）会让图像正过来。</text>

 <text class="h" x="590" y="436" textLength="10" lengthAdjust="spacingAndGlyphs">盲点</text>
 <text class="b" x="590" y="442" textLength="46" lengthAdjust="spacingAndGlyphs">每个人的视网膜上都有一个</text>
 <text class="b" x="590" y="447" textLength="46" lengthAdjust="spacingAndGlyphs">“盲点”，这里没有感受视觉</text>
 <text class="b" x="590" y="452" textLength="46" lengthAdjust="spacingAndGlyphs">的神经细胞。视网膜上的神经</text>
 <text class="b" x="590" y="457" textLength="46" lengthAdjust="spacingAndGlyphs">纤维集中在这里形成视神经。</text>
</g>
</svg>
</body></html>
